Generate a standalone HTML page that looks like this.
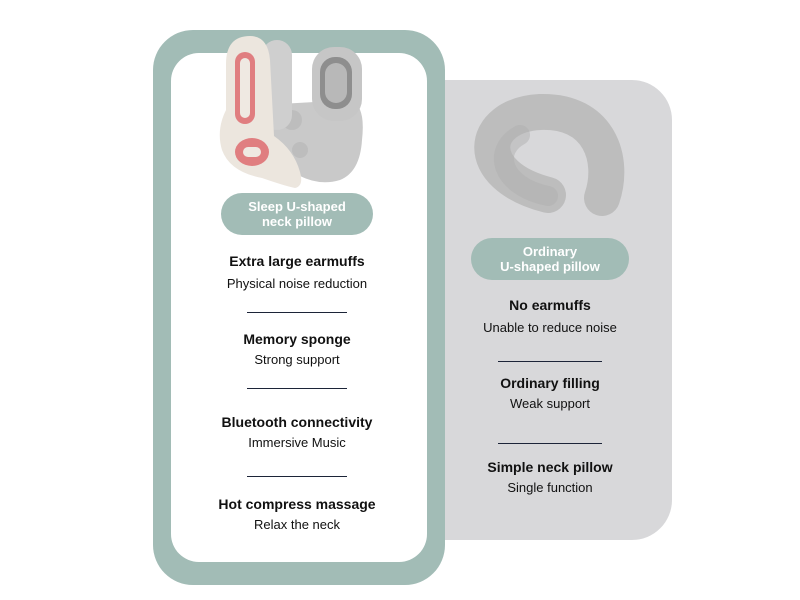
<!DOCTYPE html>
<html><head><style>
body{margin:0;width:800px;height:600px;background:#fff;position:relative;overflow:hidden;font-family:"Liberation Sans",sans-serif;color:#111}
.a{position:absolute}
.t{position:absolute;width:260px;text-align:center;white-space:nowrap}
.b{font-weight:bold;font-size:14px}
.r{font-size:13px}
.ln{position:absolute;height:1px;background:#1c2438}
.pill{position:absolute;background:#a2bcb6;color:#fff;font-weight:bold;font-size:13px;text-align:center;line-height:15px;border-radius:21px;display:flex;align-items:center;justify-content:center}
</style></head><body>
<div class="a" style="left:400px;top:80px;width:272px;height:460px;background:#d8d8da;border-radius:40px"></div>
<div class="a" style="left:153px;top:30px;width:292px;height:555px;background:#a2bcb6;border-radius:40px"></div>
<div class="a" style="left:171px;top:53px;width:256px;height:509px;background:#fff;border-radius:28px"></div>

<svg class="a" style="left:0;top:0" width="800" height="600">
<path d="M262 105 L350 100 Q366 105 362 140 Q360 172 340 180 Q320 186 300 176 L270 160Z" fill="#c9c9c9"/>
<circle cx="292" cy="120" r="10" fill="#bdbdbd"/>
<circle cx="300" cy="150" r="8" fill="#bdbdbd"/>
<rect x="262" y="40" width="30" height="90" rx="15" fill="#cfcfcf"/>
<rect x="312" y="47" width="50" height="74" rx="22" fill="#c6c6c6"/>
<rect x="320" y="57" width="32" height="52" rx="15" fill="#8e8e8e"/>
<rect x="325" y="63" width="22" height="40" rx="11" fill="#b8b8b8"/>
<path d="M250 36 Q226 36 226 64 L226 110 Q216 130 222 150 Q230 172 262 178 Q285 186 295 188 Q304 186 300 172 Q294 150 274 136 L270 60 Q268 36 250 36Z" fill="#ece6de"/>
<rect x="235" y="52" width="20" height="72" rx="10" fill="#e07e80"/>
<rect x="240" y="58" width="10" height="60" rx="5" fill="#efe9e2"/>
<ellipse cx="252" cy="152" rx="17" ry="14" fill="#e07e80"/>
<rect x="243" y="147" width="18" height="10" rx="5" fill="#efe9e2"/>
<path d="M548 195 C 470 175, 480 115, 540 112 C 600 110, 615 160, 602 198" fill="none" stroke="#bdbdbd" stroke-width="36" stroke-linecap="round"/>
<path d="M548 196 C 500 186, 492 150, 520 135" fill="none" stroke="#b0b0b0" stroke-width="20" stroke-linecap="round" opacity=".5"/>
</svg>
<div class="pill" style="left:221px;top:193px;width:152px;height:42px">Sleep U-shaped<br>neck pillow</div>
<div class="pill" style="left:471px;top:238px;width:158px;height:42px">Ordinary<br>U-shaped pillow</div>

<div class="t b" style="left:167px;top:253px">Extra large earmuffs</div>
<div class="t r" style="left:167px;top:276px">Physical noise reduction</div>
<div class="ln" style="left:247px;top:312px;width:100px"></div>
<div class="t b" style="left:167px;top:331px">Memory sponge</div>
<div class="t r" style="left:167px;top:352px">Strong support</div>
<div class="ln" style="left:247px;top:388px;width:100px"></div>
<div class="t b" style="left:167px;top:414px">Bluetooth connectivity</div>
<div class="t r" style="left:167px;top:435px">Immersive Music</div>
<div class="ln" style="left:247px;top:476px;width:100px"></div>
<div class="t b" style="left:167px;top:496px">Hot compress massage</div>
<div class="t r" style="left:167px;top:517px">Relax the neck</div>

<div class="t b" style="left:420px;top:297px">No earmuffs</div>
<div class="t r" style="left:420px;top:320px">Unable to reduce noise</div>
<div class="ln" style="left:498px;top:361px;width:104px"></div>
<div class="t b" style="left:420px;top:375px">Ordinary filling</div>
<div class="t r" style="left:420px;top:396px">Weak support</div>
<div class="ln" style="left:498px;top:443px;width:104px"></div>
<div class="t b" style="left:420px;top:459px">Simple neck pillow</div>
<div class="t r" style="left:420px;top:480px">Single function</div>
</body></html>
